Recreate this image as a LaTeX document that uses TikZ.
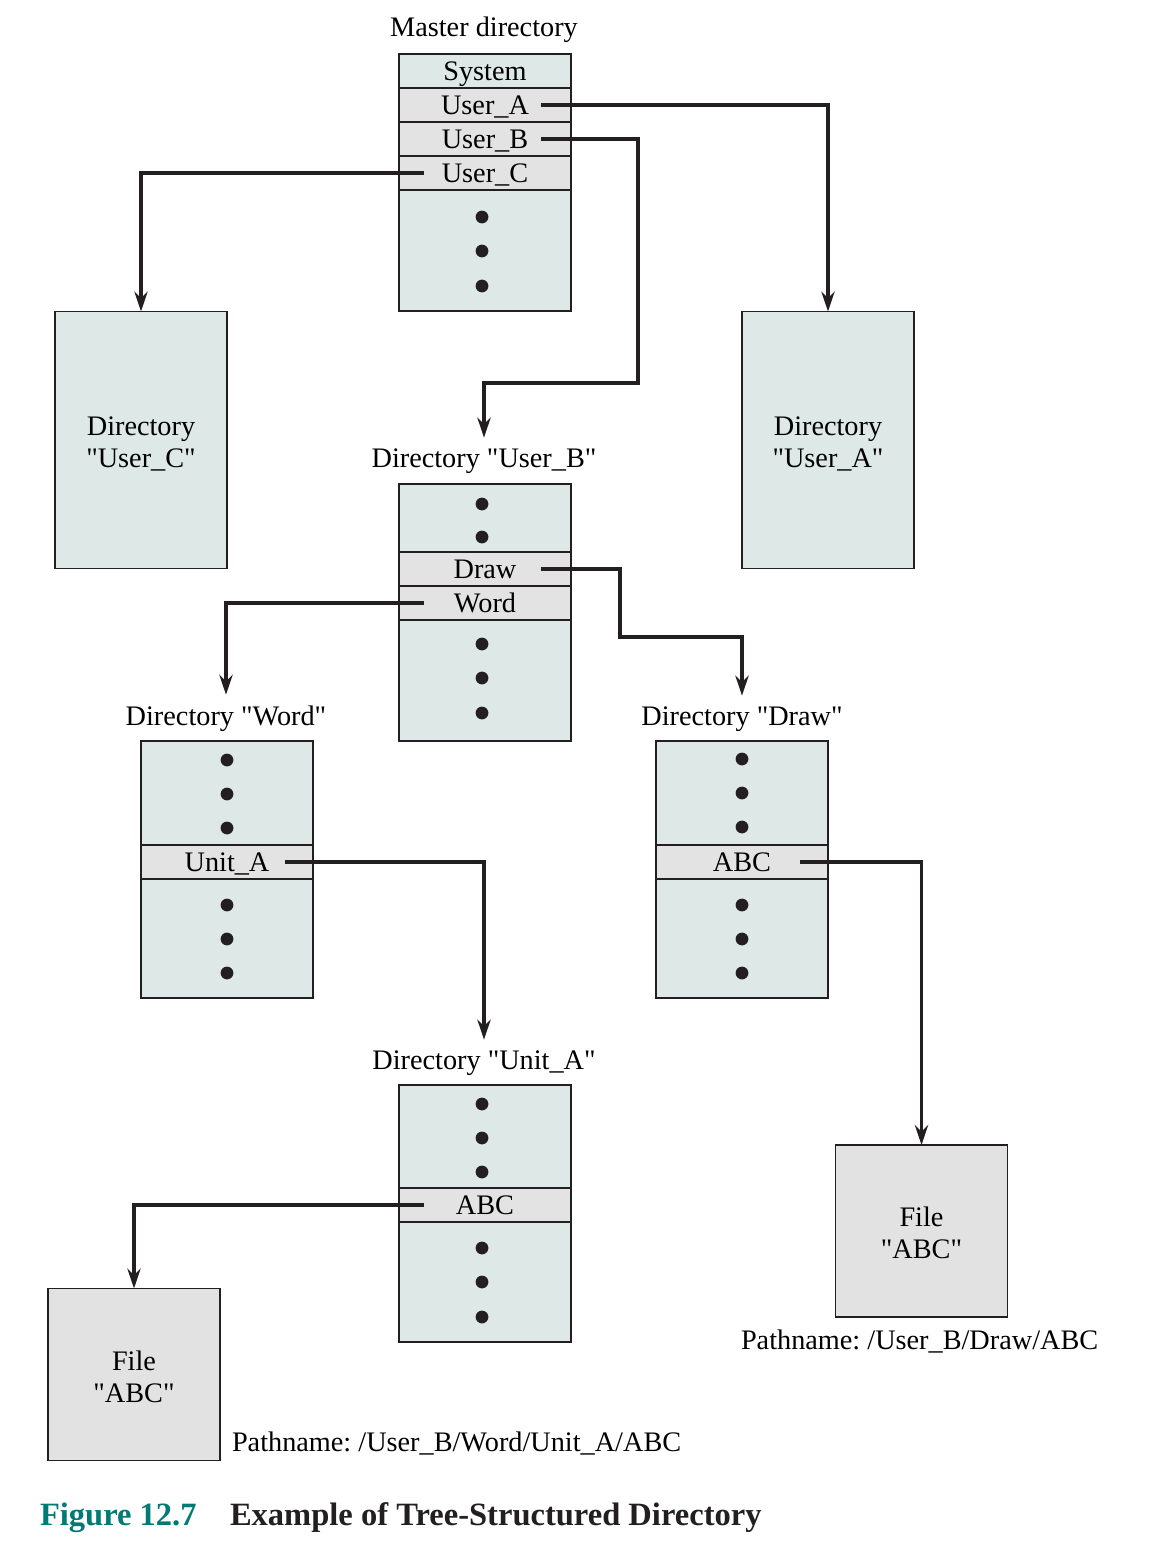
\documentclass[tikz,border=0pt]{standalone}
\usepackage{fontspec}
\setmainfont{Liberation Serif}[Ligatures=TeXOff]
\usetikzlibrary{arrows.meta,calc}
\definecolor{dirfill}{RGB}{222,233,231}
\definecolor{rowfill}{RGB}{227,227,227}
\definecolor{filefill}{RGB}{226,226,226}
\definecolor{edge}{RGB}{35,31,32}
\definecolor{figteal}{RGB}{0,122,116}
\frenchspacing
% two centred lines, lowered a little inside their box
\newcommand{\twolines}[2]{\raisebox{-4pt}[\height][\depth]{\begin{tabular}{@{}c@{}}#1\\#2\end{tabular}}}
\begin{document}
\begin{tikzpicture}[x=0.75pt,y=-0.75pt,
  font=\fontsize{21.2}{24}\selectfont,
  every node/.style={outer sep=0pt},
  dirbox/.style={draw=edge, line width=1.3pt, fill=dirfill, minimum width=129pt,
    minimum height=192.75pt, inner sep=0pt, align=center},
  rowbox/.style={draw=edge, line width=1.3pt, fill=rowfill, minimum width=129pt,
    minimum height=25.5pt, inner sep=0pt, text height=14pt, text depth=0pt},
  filebox/.style={draw=edge, line width=1.3pt, fill=filefill, minimum width=129pt,
    minimum height=129pt, inner sep=0pt, align=center},
  dirlabel/.style={anchor=base, inner sep=8pt},
  pathlabel/.style={anchor=base west, inner sep=0pt},
  link/.style={draw=edge, line width=2.4pt, -{Stealth[length=15pt,width=10pt,inset=5pt]}},
  dotmark/.style={fill=edge}
]
\useasboundingbox (0,0) rectangle (1160,1566);

% ---------- master directory ----------
\node[dirlabel] (lbl-master) at (484,37) {Master directory};
\node[dirbox] (master) at (485,182.5) {};
\node[rowbox, fill=dirfill, anchor=north] (m-sys) at (master.north) {System};
\node[rowbox, anchor=north] (m-ua) at (m-sys.south) {User\_A};
\node[rowbox, anchor=north] (m-ub) at (m-ua.south) {User\_B};
\node[rowbox, anchor=north] (m-uc) at (m-ub.south) {User\_C};
\foreach \y in {217,251,286} \fill[dotmark] (482,\y) circle[radius=4.8pt];

% ---------- user directories ----------
\node[dirbox] (dir-uc) at (141,440) {\twolines{Directory}{"User\_C"}};
\node[dirbox] (dir-ua) at (828,440) {\twolines{Directory}{"User\_A"}};

% ---------- directory User_B ----------
\node[dirlabel] (lbl-ub) at (484,467) {Directory "User\_B"};
\node[dirbox] (dir-ub) at (485,612.5) {};
\node[rowbox] (ub-draw) at (485,569) {Draw};
\node[rowbox] (ub-word) at (485,603) {Word};
\foreach \y in {504,537,644,678,713} \fill[dotmark] (482,\y) circle[radius=4.8pt];

% ---------- directory Word ----------
\node[dirlabel] (lbl-word) at (226,725) {Directory "Word"};
\node[dirbox] (dir-word) at (227,869.5) {};
\node[rowbox] (w-unit) at (227,862) {Unit\_A};
\foreach \y in {760,794,828,905,939,973} \fill[dotmark] (227,\y) circle[radius=4.8pt];

% ---------- directory Draw ----------
\node[dirlabel] (lbl-draw) at (742,725) {Directory "Draw"};
\node[dirbox] (dir-draw) at (742,869.5) {};
\node[rowbox] (d-abc) at (742,862) {ABC};
\foreach \y in {759,793,827,905,939,973} \fill[dotmark] (742,\y) circle[radius=4.8pt];

% ---------- directory Unit_A ----------
\node[dirlabel] (lbl-unit) at (484,1069) {Directory "Unit\_A"};
\node[dirbox] (dir-unit) at (485,1213.5) {};
\node[rowbox] (u-abc) at (485,1205) {ABC};
\foreach \y in {1104,1138,1172,1248,1282,1317} \fill[dotmark] (482,\y) circle[radius=4.8pt];

% ---------- files ----------
\node[filebox] (file-r) at (921.5,1231) {\twolines{File}{"ABC"}};
\node[pathlabel] (path-r) at (741,1349) {Pathname: /User\_B/Draw/ABC};
\node[filebox] (file-l) at (134,1374.5) {\twolines{File}{"ABC"}};
\node[pathlabel] (path-l) at (232,1451) {Pathname: /User\_B/Word/Unit\_A/ABC};

% ---------- connector start points and bends ----------
\coordinate (ua-s) at ($(m-ua.east)+(-30,0)$);
\coordinate (ub-s) at ($(m-ub.east)+(-30,0)$);
\coordinate (uc-s) at ($(m-uc.west)+(25,0)$);
\coordinate (draw-s) at ($(ub-draw.east)+(-30,0)$);
\coordinate (word-s) at ($(ub-word.west)+(25,0)$);
\coordinate (unit-s) at ($(w-unit.east)+(-28,0)$);
\coordinate (dabc-s) at ($(d-abc.east)+(-28,0)$);
\coordinate (uabc-s) at ($(u-abc.west)+(25,0)$);
\coordinate (bend-ub) at (638,383);
\coordinate (bend-draw) at (620,637);

% ---------- connectors ----------
\draw[link] (ua-s) -| (dir-ua.north);
\draw[link] (uc-s) -| (dir-uc.north);
\draw[link] (ub-s) -| (bend-ub) -| (lbl-ub.north);
\draw[link] (draw-s) -| (bend-draw) -| (lbl-draw.north);
\draw[link] (word-s) -| (lbl-word.north);
\draw[link] (unit-s) -| (lbl-unit.north);
\draw[link] (dabc-s) -| (file-r.north);
\draw[link] (uabc-s) -| (file-l.north);

% ---------- caption ----------
\node[anchor=base west, inner sep=0pt, text=figteal,
  font=\fontsize{24.4}{28}\selectfont\bfseries] (cap-num) at (40,1525) {Figure 12.7};
\node[anchor=base west, inner sep=0pt, text=edge,
  font=\fontsize{24.4}{28}\selectfont\bfseries] (cap-text) at (230,1525) {Example of Tree-Structured Directory};
\end{tikzpicture}
\end{document}
